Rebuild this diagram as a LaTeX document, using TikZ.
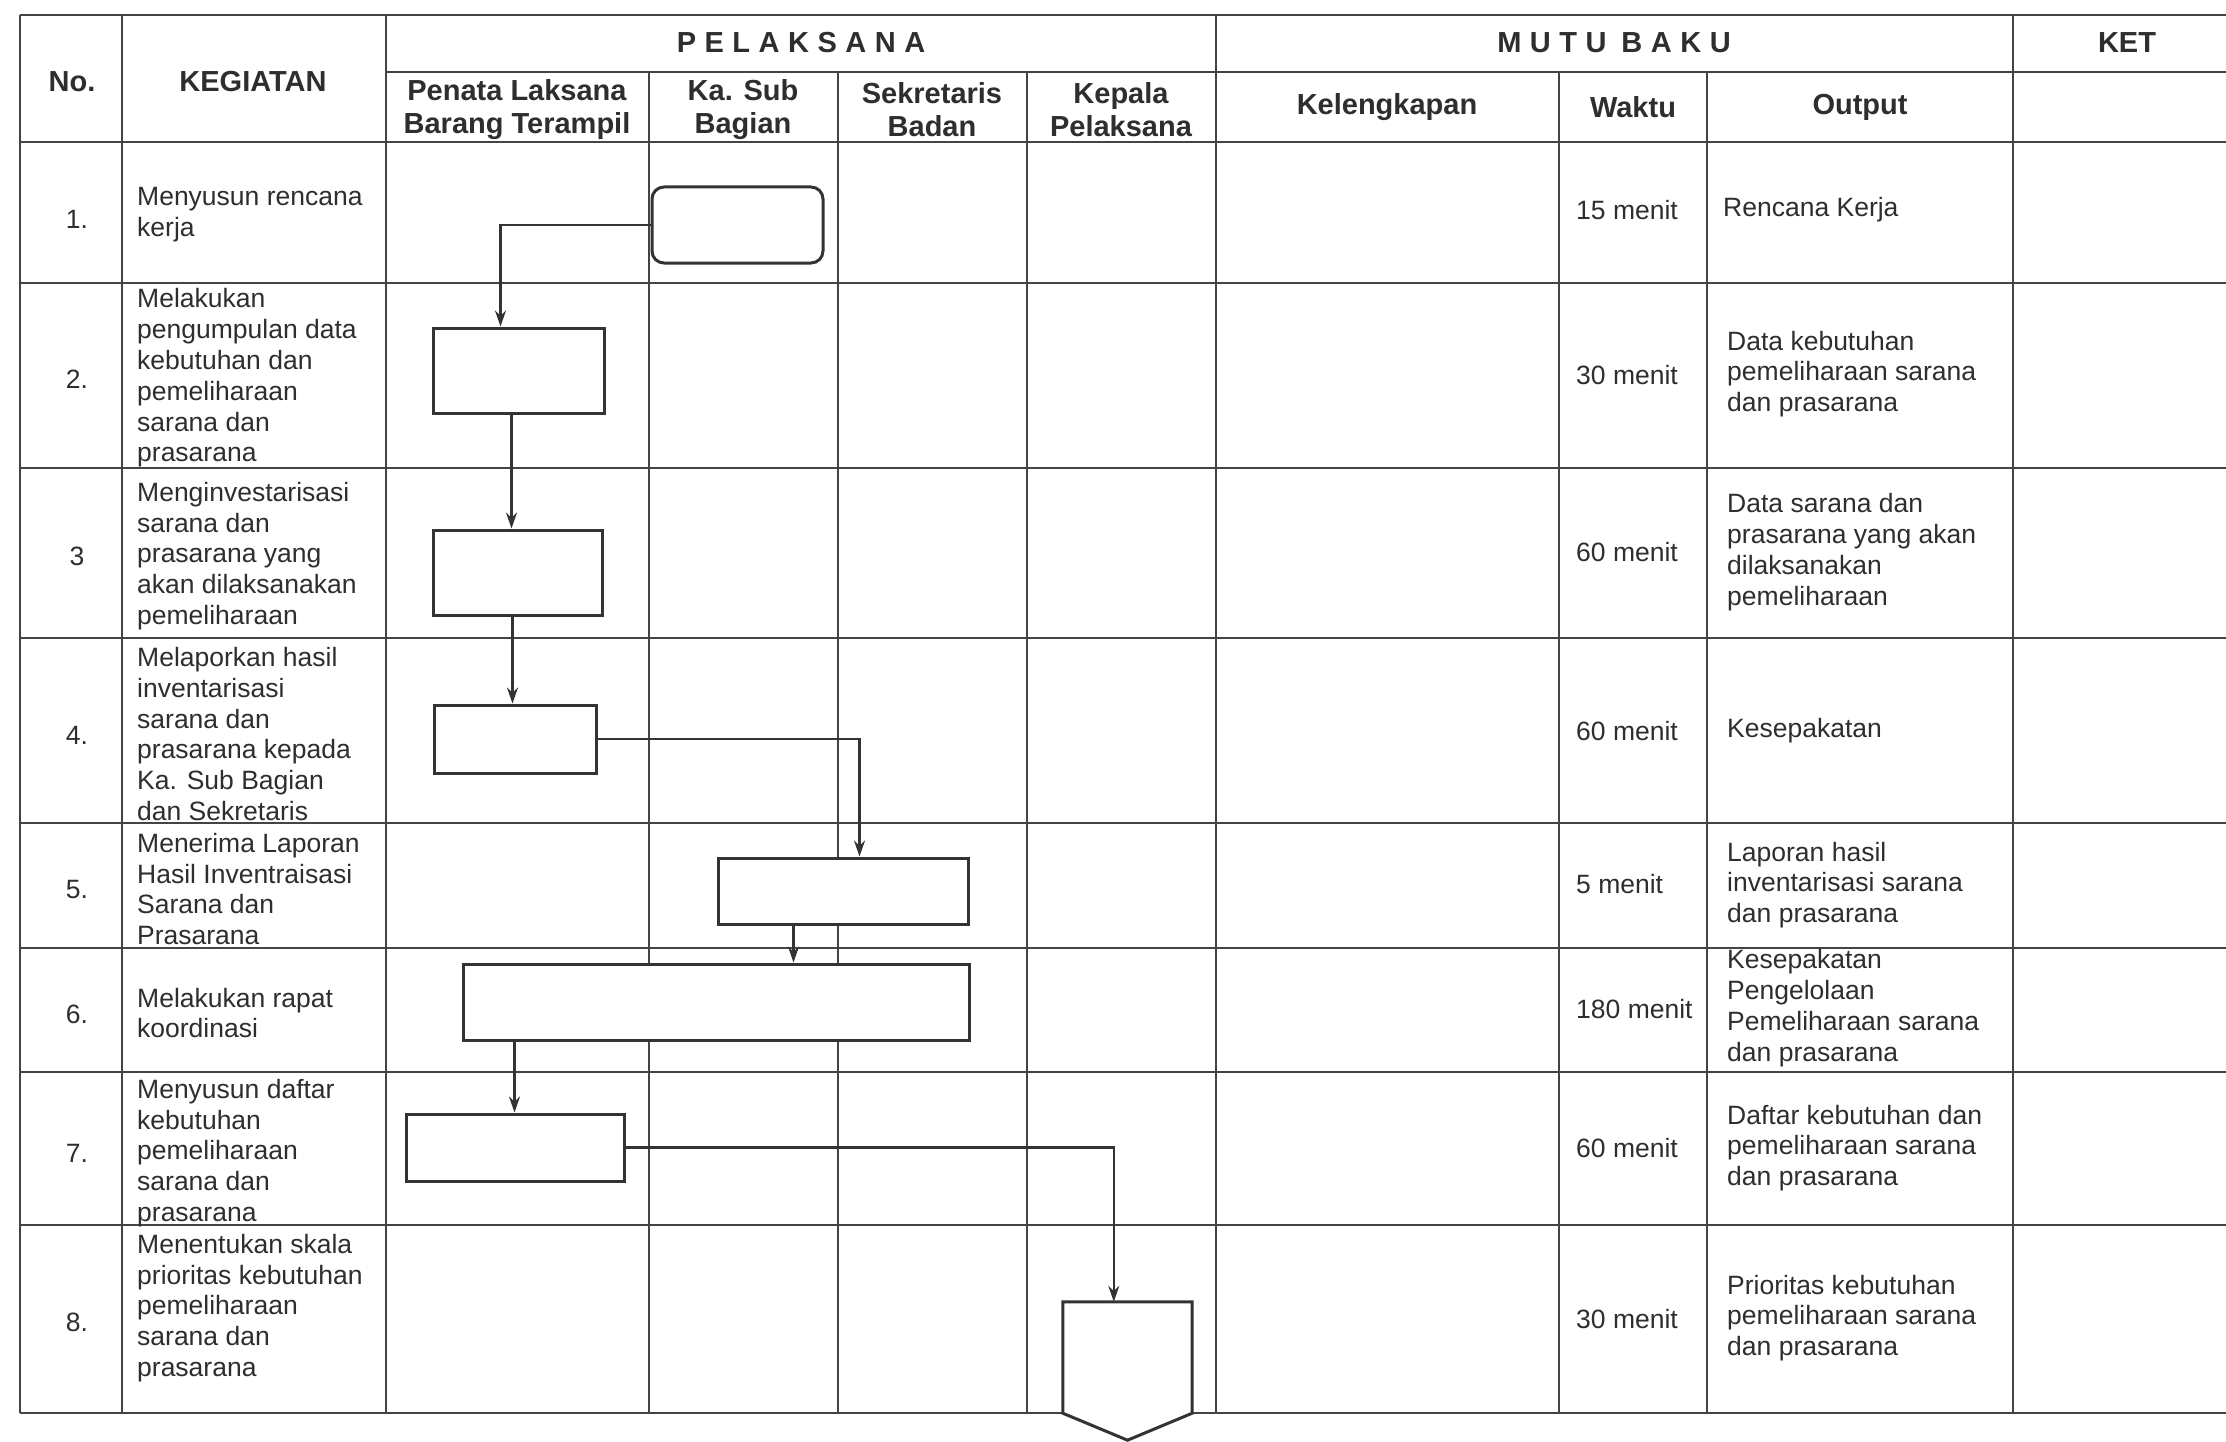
\documentclass[tikz,border=0pt]{standalone}
\usepackage{fontspec}
\setmainfont{Liberation Sans}
\usetikzlibrary{arrows.meta,calc}
\definecolor{linegray}{HTML}{444444}
\definecolor{boxgray}{HTML}{333333}
\definecolor{txtgray}{HTML}{2E2E2E}
\newcommand\hdgap{\kern8.5pt}
\begin{document}
\begin{tikzpicture}[x=1pt,y=-1pt,
  hline/.style={draw=linegray, line width=2.9pt},
  vline/.style={draw=linegray, line width=1.4pt},
  proc/.style={draw=boxgray, line width=3pt, fill=white, inner sep=0pt},
  arr/.style={draw=boxgray, line width=2.1pt, -{Stealth[length=16pt,width=11pt]}},
  body/.style={font=\fontsize{26.5}{30.8}\selectfont, text=txtgray, inner sep=0pt, align=left},
  head/.style={font=\fontsize{29}{33}\bfseries\selectfont, text=txtgray, inner sep=0pt, align=center},
]
\useasboundingbox (0,0) rectangle (2226,1442);
\fill[white] (0,0) rectangle (2226,1442);

% vertical rules of the table
\foreach \x in {20,122,386,1216,2013}
  \draw[vline] (\x,15) -- (\x,1413);
\foreach \x in {649,838,1027,1559,1707}
  \draw[vline] (\x,72) -- (\x,1413);

% horizontal rules of the table
\draw[hline] (20,15) -- (2226,15);
\draw[hline] (386,72) -- (2226,72);
\foreach \y in {142,283,468,638,823,948,1072,1225,1413}
  \draw[hline] (20,\y) -- (2226,\y);

% header texts
\node[head] (hno) at (72,82) {No.};
\node[head] (hkeg) at (253,82) {KEGIATAN};
\node[head] (hpel) at (801,43) {P\hdgap E\hdgap L\hdgap A\hdgap K\hdgap S\hdgap A\hdgap N\hdgap A};
\node[head] (hmutu) at (1614,43) {M\hdgap U\hdgap T\hdgap U\hspace{15pt}B\hdgap A\hdgap K\hdgap U};
\node[head] (hket) at (2127,43) {KET};
\node[head] (hpen) at (517,110) {Penata Laksana\\Barang Terampil};
\node[head] (hkas) at (743,110) {Ka. Sub\\Bagian};
\node[head] (hsek) at (932,110) {Sekretaris\\Badan};
\node[head] (hkep) at (1121,110) {Kepala\\Pelaksana};
\node[head] (hkel) at (1387,107) {Kelengkapan};
\node[head] (hwak) at (1633,107) {Waktu};
\node[head] (hout) at (1860,107) {Output};

% row numbers
\foreach \n/\y [count=\i] in {1./219,2./379,3/556,4./735,5./890,6./1014,7./1153,8./1322}
  \node[body, anchor=center] (no\i) at (77,\y) {\n};

% activities
\node[body, anchor=west] (k1) at (137,215) {Menyusun rencana\\kerja};
\node[body, anchor=west] (k2) at (137,378) {Melakukan\\pengumpulan data\\kebutuhan dan\\pemeliharaan\\sarana dan\\prasarana};
\node[body, anchor=west] (k3) at (137,556) {Menginvestarisasi\\sarana dan\\prasarana yang\\akan dilaksanakan\\pemeliharaan};
\node[body, anchor=west] (k4) at (137,734) {Melaporkan hasil\\inventarisasi\\sarana dan\\prasarana kepada\\Ka. Sub Bagian\\dan Sekretaris};
\node[body, anchor=west] (k5) at (137,889) {Menerima Laporan\\Hasil Inventraisasi\\Sarana dan\\Prasarana};
\node[body, anchor=west] (k6) at (137,1013) {Melakukan rapat\\koordinasi};
\node[body, anchor=west] (k7) at (137,1153) {Menyusun daftar\\kebutuhan\\pemeliharaan\\sarana dan\\prasarana};
\node[body, anchor=west] (k8) at (137,1308) {Menentukan skala\\prioritas kebutuhan\\pemeliharaan\\sarana dan\\prasarana};

% time column
\foreach \t/\y [count=\i] in {15 menit/210,30 menit/375,60 menit/552,60 menit/731,5 menit/884,180 menit/1009,60 menit/1148,30 menit/1319}
  \node[body, anchor=west] (w\i) at (1576,\y) {\t};

% output column
\node[body, anchor=west] (o1) at (1723,210) {Rencana Kerja};
\node[body, anchor=west] (o2) at (1727,374) {Data kebutuhan\\pemeliharaan sarana\\dan prasarana};
\node[body, anchor=west] (o3) at (1727,552) {Data sarana dan\\prasarana yang akan\\dilaksanakan\\pemeliharaan};
\node[body, anchor=west] (o4) at (1727,731) {Kesepakatan};
\node[body, anchor=west] (o5) at (1727,885) {Laporan hasil\\inventarisasi sarana\\dan prasarana};
\node[body, anchor=west] (o6) at (1727,1008) {Kesepakatan\\Pengelolaan\\Pemeliharaan sarana\\dan prasarana};
\node[body, anchor=west] (o7) at (1727,1148) {Daftar kebutuhan dan\\pemeliharaan sarana\\dan prasarana};
\node[body, anchor=west] (o8) at (1727,1318) {Prioritas kebutuhan\\pemeliharaan sarana\\dan prasarana};

% flow symbols
\node[proc, rounded corners=12pt, minimum width=171pt, minimum height=76pt] (b1) at (737.5,225) {};
\node[proc, minimum width=171pt, minimum height=85pt] (b2) at (518.5,370.5) {};
\node[proc, minimum width=169pt, minimum height=85pt] (b3) at (517.5,572.5) {};
\node[proc, minimum width=162pt, minimum height=68pt] (b4) at (515,739) {};
\node[proc, minimum width=250pt, minimum height=66pt] (b5) at (843,891) {};
\node[proc, minimum width=506pt, minimum height=76pt] (b6) at (716,1002) {};
\node[proc, minimum width=218pt, minimum height=67pt] (b7) at (515,1147.5) {};
% off-page connector
\node[inner sep=0pt, minimum width=129pt, minimum height=111pt] (b8) at (1127.5,1357.5) {};
\filldraw[draw=boxgray, fill=white, line width=3pt, line join=miter]
  (b8.north west) -- (b8.north east) -- (b8.south east)
  -- ($(b8.south)+(0,27)$) -- (b8.south west) -- cycle;

% connectors
\draw[arr] (b1.west) -| ([xshift=69pt]b2.north west);
\draw[arr] ([xshift=80pt]b2.south west) -- ([xshift=80pt]b3.north west);
\draw[arr] ([xshift=81pt]b3.south west) -- ([xshift=80pt]b4.north west);
\draw[arr] (b4.east) -| ([xshift=143pt]b5.north west);
\draw[arr] ([xshift=77pt]b5.south west) -- ([xshift=332pt]b6.north west);
\draw[arr] ([xshift=53pt]b6.south west) -- ([xshift=110pt]b7.north west);
\draw[arr] (b7.east) -| ([xshift=51pt]b8.north west);
\end{tikzpicture}
\end{document}
